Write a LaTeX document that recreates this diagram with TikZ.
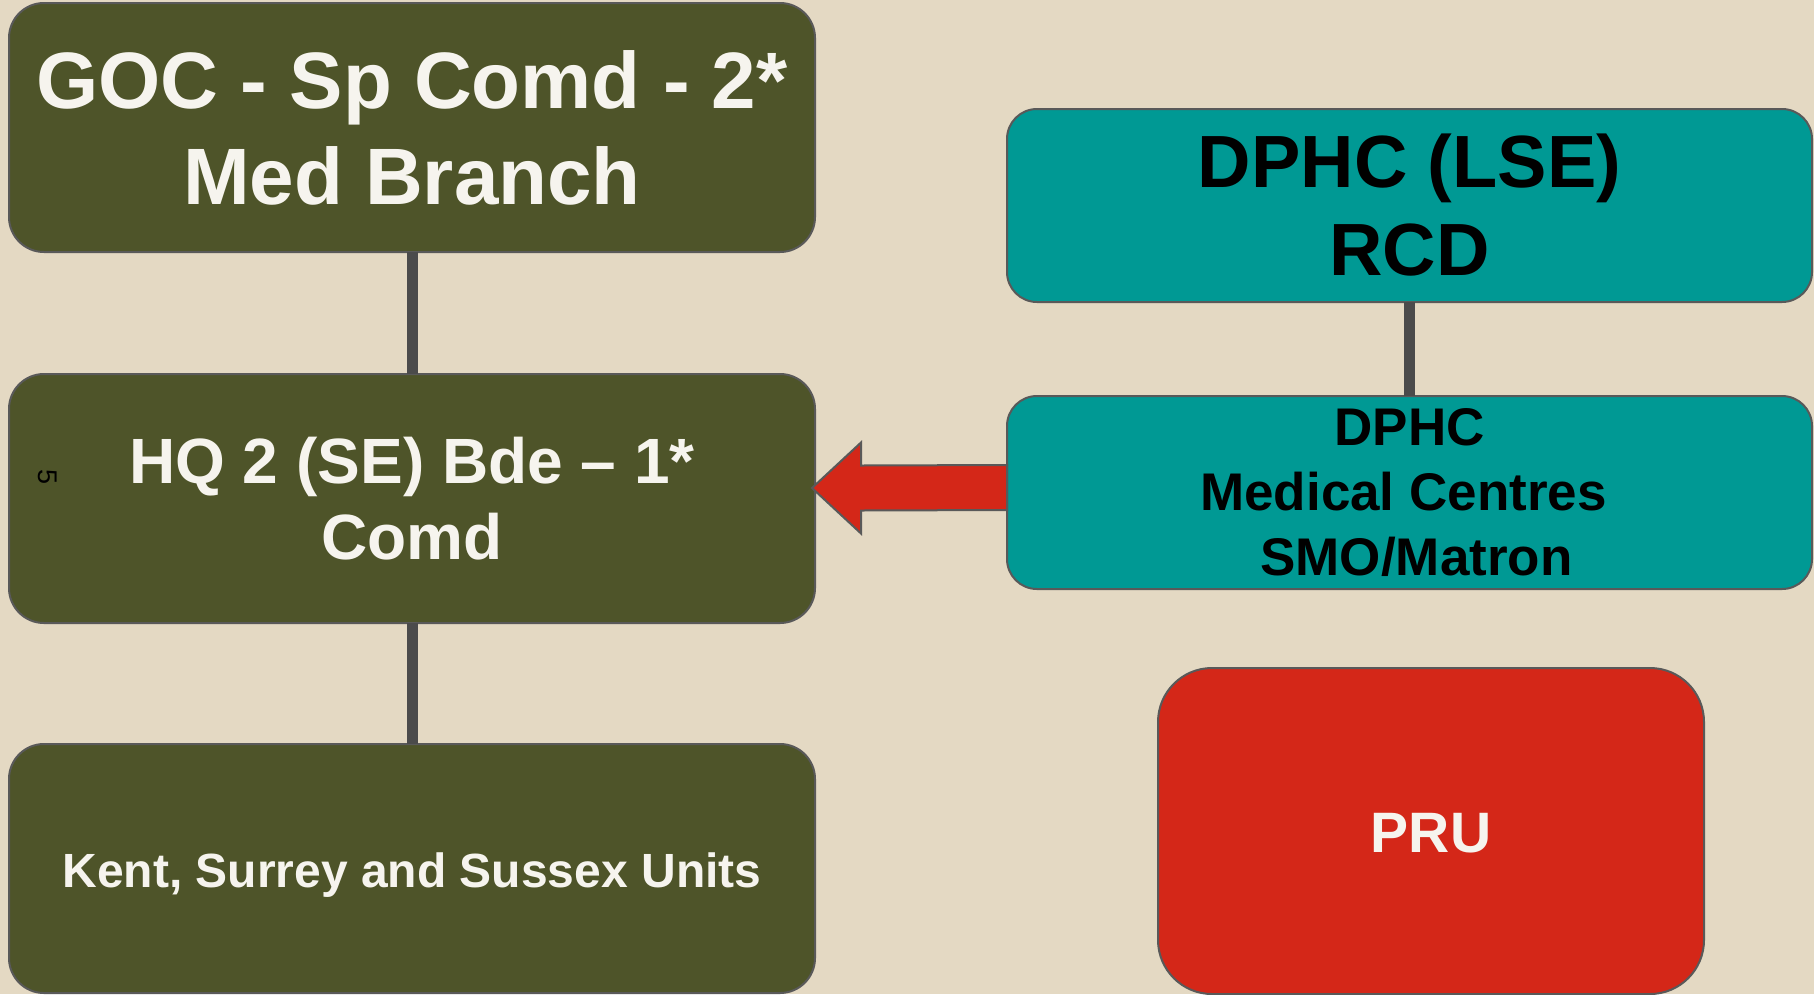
\documentclass[tikz,border=0pt]{standalone}
\usepackage{fontspec}
\setmainfont{Liberation Sans}
\usetikzlibrary{calc}
\definecolor{paper}{HTML}{E4D9C3}
\definecolor{olive}{HTML}{4E5429}
\definecolor{teal}{HTML}{009994}
\definecolor{alert}{HTML}{D42718}
\definecolor{chalk}{HTML}{F6F4EE}
\definecolor{rim}{HTML}{595959}
\definecolor{stem}{HTML}{4B4B4B}
\tikzset{
  box/.style={draw=rim,line width=2pt,rounded corners=35pt,inner sep=0pt,outer sep=0pt,align=center,font=\bfseries},
  armybox/.style={box,fill=olive,text=chalk,minimum width=806pt,minimum height=249pt},
  healthbox/.style={box,fill=teal,text=black,minimum width=805pt,minimum height=193pt,rounded corners=30pt},
  link/.style={draw=stem,line width=11pt},
  blockarrow/.style={draw=rim,line width=2pt,fill=alert,line join=miter}
}
\newcommand{\fsz}[2]{\fontsize{#1}{#2}\selectfont}
\newcommand{\nudge}[2]{\raisebox{#1}[\height][\depth]{#2}}
\begin{document}
\begin{tikzpicture}[x=1pt,y=-1pt]
\fill[paper] (0,0) rectangle (1814,994);
\useasboundingbox (0,0) rectangle (1814,994);
% army chain
\node[armybox,font=\bfseries\fsz{80}{96}] (goc) at (412,127.5) {GOC - Sp Comd - 2*\\Med Branch};
\node[armybox,font=\bfseries\fsz{64}{76}] (hq) at (412,498.5) {HQ 2 (SE) Bde -- 1*\\Comd};
\node[armybox,font=\bfseries\fsz{48}{58}] (kent) at (412,868.5) {\nudge{-7pt}{Kent, Surrey and Sussex Units}};
\node[rotate=-90,font=\fsz{27}{30},text=black] (pg) at (47.5,477) {5};
\draw[link] (goc) -- (hq);
\draw[link] (hq) -- (kent);
% health chain
\node[healthbox,font=\bfseries\fsz{74}{88}] (lse) at (1409.5,205.5) {DPHC (LSE)\\RCD};
\node[healthbox,font=\bfseries\fsz{53}{65}] (med) at (1409.5,492.5) {DPHC\\Medical Centres\kern12pt\\\hspace*{14pt}SMO/Matron};
\node[box,fill=alert,text=chalk,minimum width=546pt,minimum height=326pt,rounded corners=54pt,font=\bfseries\fsz{57}{68}] (pru) at (1431,831) {\nudge{-2pt}{PRU}};
\draw[link] (lse) -- (med);
% block arrow med -> hq
\coordinate (tip) at ($(hq.east)+(-3,-10.5)$);
\coordinate (tail) at ($(med.west)+(0,-5)$);
\draw[blockarrow] ($(tail)+(0,-22.5)$) -- ($(tip)+(49,-22.5)$) -- ($(tip)+(49,-45.5)$)
  -- (tip) -- ($(tip)+(49,45.5)$) -- ($(tip)+(49,22.5)$) -- ($(tail)+(0,22.5)$) -- cycle;
\end{tikzpicture}
\end{document}
